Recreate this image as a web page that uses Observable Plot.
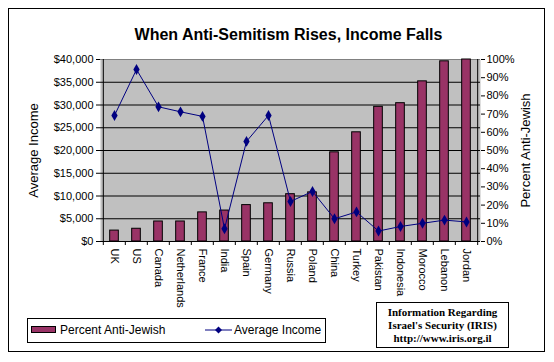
<!DOCTYPE html>
<html>
<head>
<meta charset="utf-8">
<script src="https://cdn.jsdelivr.net/npm/d3@7"></script>
<script src="https://cdn.jsdelivr.net/npm/@observablehq/plot@0.6"></script>
<style>
  html, body { margin: 0; padding: 0; background: #fff; }
  #wrap { position: relative; width: 554px; height: 362px; font-family: "Liberation Sans", Arial, sans-serif; }
  #wrap svg { position: absolute; left: 0; top: 0; }
  .abs { position: absolute; }
  #border { left: 8px; top: 8px; width: 537px; height: 344px; border: 1px solid #000; box-sizing: border-box; }
  #title { left: 0; width: 577px; top: 26px; text-align: center; font-weight: bold; font-size: 16px; color: #000; }
  #legend { left: 27px; top: 318px; width: 299px; height: 25px; border: 1px solid #000; box-sizing: border-box; background: #fff; font-size: 12px; }
  #iris { left: 376px; top: 302px; width: 133px; height: 46px; border: 1px solid #000; box-sizing: border-box; background: #fff;
          font-family: "Liberation Serif", "Times New Roman", serif; font-weight: bold; font-size: 11px; line-height: 13px; text-align: center; padding-top: 3px; }
</style>
</head>
<body>
<div id="wrap"></div>
<script>
const countries = ["UK","US","Canada","Netherlands","France","India","Spain","Germany","Russia","Poland","China","Turkey","Pakistan","Indonesia","Morocco","Lebanon","Jordan"];
const pctAntiJewish = [6,7,11,11,16,17,20,21,26,27,49,60,74,76,88,99,100];
const avgIncome = [27700,37800,29600,28500,27500,2800,22000,27700,8800,11000,5000,6500,2300,3300,4000,4700,4300];
const incomeTicks = [0,5000,10000,15000,20000,25000,30000,35000,40000];
const pctTicks = [0,10,20,30,40,50,60,70,80,90,100];
const seriesNames = ["Percent Anti-Jewish","Average Income"];
const titleText = "When Anti-Semitism Rises, Income Falls";
const irisLines = ["Information Regarding","Israel's Security (IRIS)","http://www.iris.org.il"];

const data = countries.map((c,i) => ({country:c, pct:pctAntiJewish[i], income:avgIncome[i]}));
const pctToIncome = 40000/100;

const W = 554, H = 362, mL = 100, mR = 74, mT = 59, mB = 121;
const step = (W - mL - mR) / countries.length;
const barInset = (step - 9) / 2;

const chart = Plot.plot({
  width: W, height: H,
  marginLeft: mL, marginRight: mR, marginTop: mT, marginBottom: mB,
  style: {background: "transparent", fontFamily: "'Liberation Sans', Arial, sans-serif", fontSize: "11px", color: "#000", overflow: "visible"},
  x: {type: "band", domain: countries, padding: 0, axis: null},
  y: {domain: [0, 40000], axis: null},
  marks: [
    Plot.frame({fill: "#c0c0c0", stroke: "none"}),
    Plot.ruleY(incomeTicks.slice(1, -1), {stroke: "#000", strokeWidth: 1}),
    Plot.ruleY([incomeTicks[incomeTicks.length-1]], {stroke: "#808080", strokeWidth: 1}),
    Plot.barY(data, {x: "country", y: d => d.pct * pctToIncome, fill: "#993366", stroke: "#000", strokeWidth: 1, insetLeft: barInset, insetRight: barInset}),
    Plot.line(data, {x: "country", y: "income", stroke: "#000080", strokeWidth: 1}),
    Plot.dot(data, {x: "country", y: "income", symbol: "diamond", r: 3.3, fill: "#000080", stroke: "none"}),
    // axis lines
    Plot.ruleY([0], {stroke: "#000"}),
    Plot.ruleX([countries[0]], {dx: -step/2, stroke: "#000"}),
    Plot.ruleX([countries[countries.length-1]], {dx: step/2, stroke: "#000"}),
    // left axis
    Plot.axisY(incomeTicks, {anchor: "left", tickSize: 4, tickPadding: 3, tickFormat: d => "$" + d3.format(",")(d), label: null, fontSize: 11}),
    // right axis
    Plot.axisY(pctTicks.map(p => p * pctToIncome), {anchor: "right", tickSize: 4, tickPadding: 2, tickFormat: d => Math.round(d / pctToIncome) + "%", label: null, fontSize: 11}),
    // x tick marks between categories
    Plot.axisX({anchor: "bottom", tickSize: 4, tickFormat: () => "", dx: -step/2, label: null}),
    Plot.axisX([countries[countries.length-1]], {anchor: "bottom", tickSize: 4, tickFormat: () => "", dx: step/2, label: null}),
    // category labels
    Plot.axisX({anchor: "bottom", tickSize: 0, tickPadding: 7, tickRotate: 90, label: null, fontSize: 11}),
    // axis titles
    Plot.text([seriesNames[1]], {frameAnchor: "left", textAnchor: "middle", dx: -67, rotate: -90, fontSize: 13, fill: "#000"}),
    Plot.text([seriesNames[0]], {frameAnchor: "right", textAnchor: "middle", dx: 45, rotate: -90, fontSize: 13, fill: "#000"})
  ]
});

const wrap = document.getElementById("wrap");
wrap.appendChild(chart);

function div(id, cls, html) {
  const d = document.createElement("div");
  if (id) d.id = id;
  d.className = cls;
  if (html != null) d.innerHTML = html;
  wrap.appendChild(d);
  return d;
}
div("border", "abs");
div("title", "abs").textContent = titleText;

const leg = div("legend", "abs");
leg.innerHTML = `
  <div style="position:absolute;left:3px;top:7px;width:25px;height:7px;background:#993366;border:1px solid #000;box-sizing:border-box"></div>
  <div style="position:absolute;left:32px;top:3px;line-height:16px;">${seriesNames[0]}</div>
  <svg style="position:absolute;left:177px;top:4px" width="28" height="14"><line x1="0" x2="27" y1="7" y2="7" stroke="#000080"/><path d="M13.5 3.5 L17 7 L13.5 10.5 L10 7 Z" fill="#000080"/></svg>
  <div style="position:absolute;left:206px;top:3px;line-height:16px;">${seriesNames[1]}</div>`;

const iris = div("iris", "abs");
iris.innerHTML = irisLines.map(t => `<div>${t}</div>`).join("");
</script>
</body>
</html>
